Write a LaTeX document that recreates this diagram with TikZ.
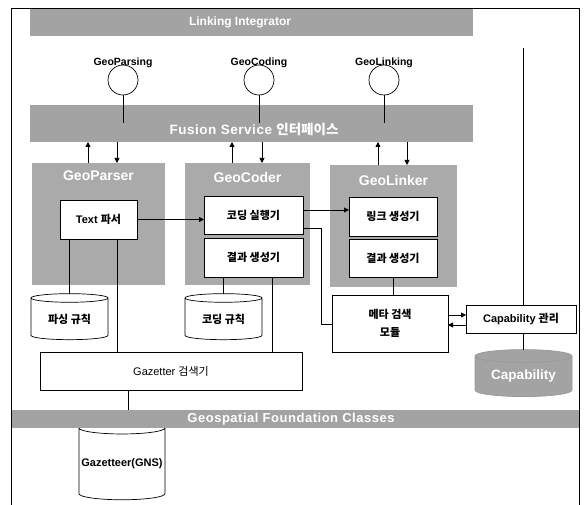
\documentclass[tikz,border=0pt]{standalone}
\usepackage{fontspec}
\setmainfont{Liberation Sans}
\newfontfamily\kr{Noto Sans CJK KR}
\usetikzlibrary{arrows.meta,shapes.geometric,calc}
\definecolor{bandgray}{RGB}{163,163,163}
\definecolor{panelgray}{RGB}{170,170,170}
\newcommand\K[1]{{\kr #1}}

\begin{document}
\begin{tikzpicture}[x=1pt,y=-1pt,
  every node/.style={inner sep=0pt, outer sep=0pt},
  ln/.style={line width=0.7pt},
  arr/.style={line width=0.8pt, -{Triangle[length=5pt,width=5pt]}},
  bandbox/.style={fill=bandgray, draw=none},
  bandtext/.style={text=white, font=\bfseries\fontsize{12}{14}\selectfont},
  panel/.style={fill=panelgray, draw=none},
  paneltitle/.style={text=white, font=\bfseries\fontsize{14}{16}\selectfont},
  box/.style={draw, fill=white, line width=0.7pt, font=\bfseries\fontsize{11}{13}\selectfont},
  iface/.style={circle, draw, fill=white, line width=0.7pt, minimum size=30pt},
  ifacelabel/.style={font=\bfseries\fontsize{10.5}{12}\selectfont},
  cyl/.style={cylinder, shape border rotate=90, aspect=0.2, draw, fill=white,
    line width=0.7pt, font=\bfseries\fontsize{11}{13}\selectfont},
]
\useasboundingbox (0,0) rectangle (587,505);

% outer frame
\draw[ln] (11,505) -- (11,8) -- (579,8) -- (579,505);

% layer bands
\node[bandbox, minimum width=443pt, minimum height=27pt] (li) at (251.5,22.5) {};
\node[bandtext] (litext) at (240,22) {Linking Integrator};
\node[bandbox, minimum width=443pt, minimum height=37pt] (fs) at (251.5,123.5) {};
\node[bandtext, font=\bfseries\fontsize{13.5}{15}\selectfont] (fstext) at (254,129)
  {\addfontfeatures{LetterSpace=4}Fusion Service \K{인터페이스}};

% service panels
\node[panel, minimum width=133pt, minimum height=122pt] (pp) at (98.5,224) {};
\node[paneltitle] at (98.5,176) {GeoParser};
\node[panel, minimum width=125pt, minimum height=122pt] (pc) at (247.5,224) {};
\node[paneltitle] at (247.5,177) {GeoCoder};
\node[panel, minimum width=127pt, minimum height=122pt] (pl) at (393.5,226) {};
\node[paneltitle] at (393.5,180) {GeoLinker};

% components inside the panels
\node[box, minimum width=77pt, minimum height=39pt] (tp) at (98.5,219.5) {Text \K{파서}};
\node[box, minimum width=99pt, minimum height=38pt] (cx) at (253.5,215) {\K{코딩 실행기}};
\node[box, minimum width=99pt, minimum height=39pt] (cr) at (253.5,257.5) {\K{결과 생성기}};
\node[box, minimum width=88pt, minimum height=39pt] (lk) at (393,216.5) {\K{링크 생성기}};
\node[box, minimum width=88pt, minimum height=38pt] (lr) at (393,258) {\K{결과 생성기}};

% other components
\node[box, minimum width=116pt, minimum height=57pt, align=center] (meta) at (390,323.5)
  {\K{메타 검색}\\[5pt]\K{모듈}};
\node[box, minimum width=110pt, minimum height=28pt] (cap) at (521,319) {Capability \K{관리}};
\node[box, font=\fontsize{11}{13}\selectfont, minimum width=262pt, minimum height=38pt] (gz) at (171,371) {Gazetter \K{검색기}};

% data stores
\node[cyl, minimum width=77pt, minimum height=46pt] (pr) at (69.5,319) {\K{파싱 규칙}};
\node[cyl, minimum width=77pt, minimum height=46pt] (cdr) at (223.5,319) {\K{코딩 규칙}};
\node[cyl, minimum width=86pt, minimum height=78pt, aspect=0.15] (gns) at (122,464) {Gazetteer(GNS)};
\node[cyl, fill=bandgray, draw=gray!80, text=white, font=\bfseries\fontsize{13.5}{15}\selectfont,
  minimum width=97pt, minimum height=47pt] (capdb) at (523.5,376.5) {Capability};

% interfaces
\node[iface, label={[ifacelabel, label distance=-3pt]above:GeoParsing}] (gp) at (123,80) {};
\node[iface, label={[ifacelabel, label distance=-3pt]above:GeoCoding}] (gc) at (259,80) {};
\node[iface, label={[ifacelabel, label distance=-3pt]above:GeoLinking}] (gl) at (384,80) {};
\draw[ln] (gp.south) -- (gp.south |- fs.center);
\draw[ln] (gc.south) -- (gc.south |- fs.center);
\draw[ln] (gl.south) -- (gl.south |- fs.center);

% calls between the fusion layer and the services
\draw[arr] ([xshift=-10.5pt]pp.north) -- ([xshift=-10.5pt]pp.north |- fs.south);
\draw[arr] ([xshift=18.5pt]pp.north |- fs.south) -- ([xshift=18.5pt]pp.north);
\draw[arr] ([xshift=-15.5pt]pc.north) -- ([xshift=-15.5pt]pc.north |- fs.south);
\draw[arr] ([xshift=14.5pt]pc.north |- fs.south) -- ([xshift=14.5pt]pc.north);
\draw[arr] ([xshift=-15.5pt]pl.north) -- ([xshift=-15.5pt]pl.north |- fs.south);
\draw[arr] ([xshift=13.5pt]pl.north |- fs.south) -- ([xshift=13.5pt]pl.north);

% data flow between components
\draw[arr] (tp.east) -- (tp.east -| cx.west);
\draw[arr] ([yshift=5pt]cx.east) -- ([yshift=5pt]cx.east -| lk.west);
\coordinate (bend) at (321,324);
\draw[ln] ([yshift=-13pt]cx.east) -| (bend) -- (bend -| meta.west);
\draw[ln] (lr.south) -- (lr.south |- meta.north);
\draw[arr] ([yshift=4pt]cap.west -| meta.east) -- ([yshift=4pt]cap.west);
\draw[arr] ([yshift=-6pt]cap.west) -- ([yshift=-6pt]cap.west -| meta.east);

% rule stores and gazetteer search
\draw[ln] (tp.south -| pr.north) -- (pr.north);
\draw[ln] ([xshift=18.5pt]tp.south) -- ([xshift=18.5pt]tp.south |- gz.north);
\draw[ln] (cr.south -| cdr.north) -- (cdr.north);
\draw[ln] ([xshift=18.5pt]cr.south) -- ([xshift=18.5pt]cr.south |- gz.north);
\draw[ln] ([xshift=6pt]gns.north |- gz.south) -- ([xshift=6pt]gns.north);

% capability management
\coordinate (rtop) at (523,48);
\draw[ln] (cap.north -| rtop) -- (rtop);
\draw[ln] (cap.south -| capdb.north) -- (capdb.north);

% foundation layer
\node[bandbox, minimum width=567pt, minimum height=18pt] (gf) at (295.5,419) {};
\node[bandtext, font=\bfseries\fontsize{13}{15}\selectfont] (gftext) at (291,419.5)
  {\addfontfeatures{LetterSpace=4}Geospatial Foundation Classes};
\end{tikzpicture}
\end{document}
